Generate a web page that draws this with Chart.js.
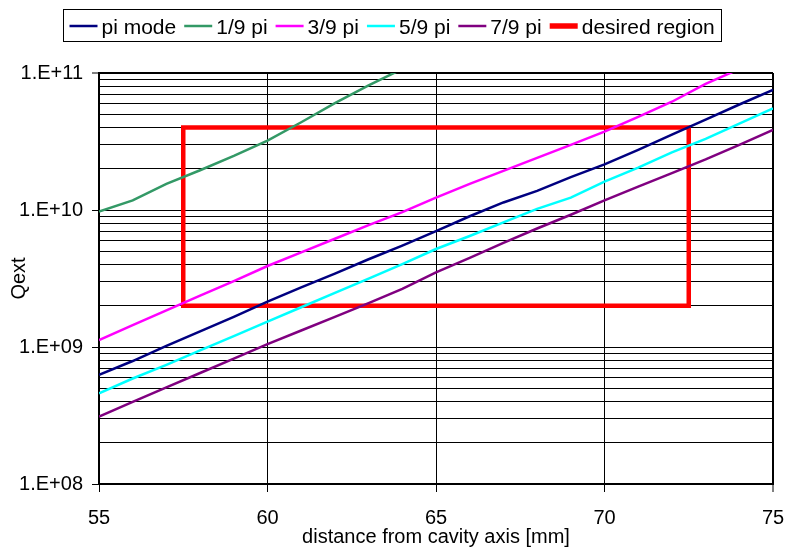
<!DOCTYPE html>
<html>
<head>
<meta charset="utf-8">
<script src="https://cdn.jsdelivr.net/npm/chart.js@4.4.1/dist/chart.umd.min.js"></script>
<style>
  html, body { margin: 0; padding: 0; background: #fff; }
  #wrap { width: 785px; height: 549px; }
</style>
</head>
<body>
<div id="wrap"><canvas id="c" width="785" height="549"></canvas></div>
<script>
// distance from cavity axis [mm]
const distance = [55, 56, 57, 58, 59, 60, 61, 62, 63, 64, 65, 66, 67, 68, 69, 70, 71, 72, 73, 74, 75];

// external Q for each passband mode
const piMode = [6.25e8, 7.9e8, 1.02e9, 1.30e9, 1.66e9, 2.14e9, 2.72e9, 3.43e9, 4.37e9, 5.5e9, 7.0e9,
                9.0e9, 1.135e10, 1.38e10, 1.74e10, 2.15e10, 2.75e10, 3.55e10, 4.57e10, 5.89e10, 7.52e10];
const pi1of9 = [9.73e9, 1.175e10, 1.55e10, 1.95e10, 2.48e10, 3.21e10, 4.37e10, 6.03e10, 8.13e10, 1.07e11];
const pi3of9 = [1.125e9, 1.445e9, 1.853e9, 2.37e9, 3.03e9, 3.9e9, 4.9e9, 6.17e9, 7.76e9, 9.66e9,
                1.23e10, 1.55e10, 1.93e10, 2.4e10, 2.99e10, 3.73e10, 4.79e10, 6.17e10, 8.32e10, 1.07e11];
const pi5of9 = [4.59e8, 5.89e8, 7.41e8, 9.44e8, 1.2e9, 1.53e9, 1.95e9, 2.48e9, 3.16e9, 4.03e9, 5.19e9,
                6.46e9, 8.13e9, 1.02e10, 1.23e10, 1.61e10, 2.04e10, 2.63e10, 3.31e10, 4.27e10, 5.52e10];
const pi7of9 = [3.1e8, 3.98e8, 5.07e8, 6.46e8, 8.22e8, 1.05e9, 1.32e9, 1.66e9, 2.09e9, 2.66e9, 3.51e9,
                4.47e9, 5.75e9, 7.33e9, 9.23e9, 1.175e10, 1.48e10, 1.86e10, 2.34e10, 2.99e10, 3.84e10];

// target window: distance 57.5–72.5 mm, Qext 2e9–4e10
const regionX = [57.5, 72.5, 72.5, 57.5, 57.5];
const regionY = [2e9, 2e9, 4e10, 4e10, 2e9];

// axis ticks
const xTicks = [55, 60, 65, 70, 75];
const yDecades = [1e8, 1e9, 1e10, 1e11];
const yTickLabels = ['1.E+08', '1.E+09', '1.E+10', '1.E+11'];
const yMantissas = [1, 2, 3, 4, 5, 6, 7, 8, 9];

const pts = (xs, ys) => ys.map((y, i) => ({ x: xs[i], y }));

// every 1..9 x 10^n gridline, closing at the top decade
const yGridValues = [];
yDecades.slice(0, -1).forEach(d => yMantissas.forEach(m => yGridValues.push(m * d)));
yGridValues.push(yDecades[yDecades.length - 1]);

const isDecade = v => yDecades.some(d => Math.abs(v / d - 1) < 1e-9);

const FONT = '"Liberation Sans", Arial, sans-serif';

// boxed legend across the top
const boxLegend = {
  id: 'boxLegend',
  afterDraw(chart) {
    const ctx = chart.ctx;
    ctx.save();
    ctx.font = '21px ' + FONT;
    const items = chart.data.datasets.map(ds => ({
      text: ds.label, color: ds.borderColor, lw: ds.legendWidth || ds.borderWidth,
      tw: ctx.measureText(ds.label).width
    }));
    const lineLen = 28, gap = 4, itemGap = 8, padL = 6, padR = 7;
    let total = padL + padR;
    items.forEach((it, i) => { total += lineLen + gap + it.tw + (i < items.length - 1 ? itemGap : 0); });
    const left = Math.round(chart.width / 2 - total / 2) + 0.5;
    const top = 9.5, h = 32;
    ctx.strokeStyle = '#000';
    ctx.lineWidth = 1;
    ctx.strokeRect(left, top, Math.round(total), h);
    let x = left + padL;
    const ly = 26;
    items.forEach(it => {
      ctx.beginPath();
      ctx.strokeStyle = it.color;
      ctx.lineWidth = it.lw;
      ctx.lineCap = 'butt';
      ctx.moveTo(x, ly);
      ctx.lineTo(x + lineLen, ly);
      ctx.stroke();
      x += lineLen + gap;
      ctx.fillStyle = '#000';
      ctx.textBaseline = 'alphabetic';
      ctx.textAlign = 'left';
      ctx.fillText(it.text, x, 34);
      x += it.tw + itemGap;
    });
    ctx.restore();
  }
};

const lineSet = (label, color, xs, ys, width) => ({
  label, data: pts(xs, ys), borderColor: color, backgroundColor: color,
  borderWidth: width, pointRadius: 0, tension: 0, fill: false
});

new Chart(document.getElementById('c'), {
  type: 'line',
  data: {
    datasets: [
      lineSet('pi mode', '#000080', distance, piMode, 2.5),
      lineSet('1/9 pi', '#339966', distance, pi1of9, 2.5),
      lineSet('3/9 pi', '#FF00FF', distance, pi3of9, 2.5),
      lineSet('5/9 pi', '#00FFFF', distance, pi5of9, 2.5),
      lineSet('7/9 pi', '#800080', distance, pi7of9, 2.5),
      Object.assign(lineSet('desired region', '#FF0000', regionX, regionY, 4.5),
        { borderJoinStyle: 'miter', borderCapStyle: 'square', legendWidth: 5.5 })
    ]
  },
  options: {
    responsive: false,
    animation: false,
    devicePixelRatio: 1,
    layout: { padding: { left: 0, right: 0, top: 73, bottom: 0 } },
    plugins: {
      legend: { display: false },
      tooltip: { enabled: false }
    },
    scales: {
      x: {
        type: 'linear',
        min: 55, max: 75,
        afterBuildTicks: s => { s.ticks = xTicks.map(v => ({ value: v })); },
        afterFit: s => { s.height = 65; s.paddingLeft = 0; s.paddingRight = 12; },
        grid: {
          color: '#000',
          lineWidth: c => (c.tick && c.tick.value === 75 ? 2 : 1),
          tickColor: '#000',
          tickLength: 8,
          tickWidth: 1
        },
        border: { display: true, color: '#000', width: 2 },
        ticks: {
          padding: 14,
          color: '#000',
          font: { family: FONT, size: 20 },
          maxRotation: 0,
          autoSkip: false
        },
        title: {
          display: true,
          text: 'distance from cavity axis [mm]',
          color: '#000',
          font: { family: FONT, size: 20 },
          padding: { top: 0, bottom: 0 }
        }
      },
      y: {
        type: 'logarithmic',
        min: 1e8, max: 1e11,
        afterBuildTicks: s => { s.ticks = yGridValues.map(v => ({ value: v })); },
        afterFit: s => { s.width = 99; },
        grid: {
          color: '#000',
          lineWidth: c => (c.tick && Math.abs(c.tick.value / 1e11 - 1) < 1e-9 ? 2 : 1),
          tickColor: c => (c.tick && isDecade(c.tick.value) ? '#000' : 'rgba(0,0,0,0)'),
          tickLength: 7,
          tickWidth: 1
        },
        border: { display: true, color: '#000', width: 2 },
        ticks: {
          padding: 9,
          color: '#000',
          autoSkip: false,
          font: { family: FONT, size: 20 },
          callback: v => {
            const i = yDecades.findIndex(d => Math.abs(v / d - 1) < 1e-9);
            return i >= 0 ? yTickLabels[i] : '';
          }
        },
        title: {
          display: true,
          text: 'Qext',
          color: '#000',
          font: { family: FONT, size: 20 },
          padding: { top: 7, bottom: 0 }
        }
      }
    }
  },
  plugins: [boxLegend]
});
</script>
</body>
</html>
